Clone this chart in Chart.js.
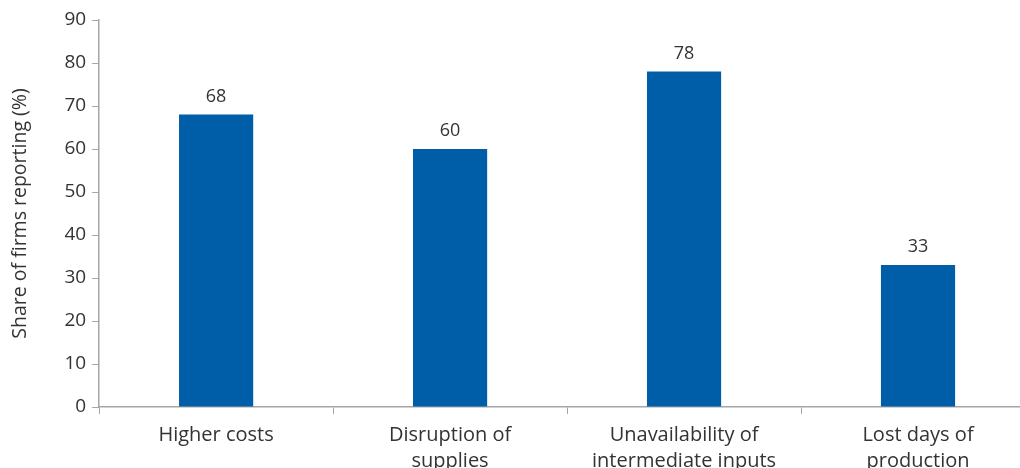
<!DOCTYPE html>
<html>
<head>
<meta charset="utf-8">
<script src="https://cdn.jsdelivr.net/npm/chart.js@4"></script>
<style>
  html, body { margin: 0; padding: 0; overflow: hidden; background: #fff; }
  #wrap { position: relative; width: 1035px; height: 482px; }
</style>
</head>
<body>
<div id="wrap"><canvas id="chart"></canvas></div>
<script>
// Категории и значения
const categories = [
  ['Higher costs'],
  ['Disruption of', 'supplies'],
  ['Unavailability of', 'intermediate inputs'],
  ['Lost days of', 'production']
];
const shares = [68, 60, 78, 33];
const yTicks = [0, 10, 20, 30, 40, 50, 60, 70, 80, 90];

const FONT = "'Open Sans', 'Noto Sans', sans-serif";
const TEXT = '#333333';
const AXIS = '#a6a6a6';

// подписи значений над столбцами
const valueLabels = {
  id: 'valueLabels',
  afterDatasetsDraw(chart) {
    const ctx = chart.ctx;
    const meta = chart.getDatasetMeta(0);
    ctx.save();
    ctx.font = '18px ' + FONT;
    ctx.fillStyle = TEXT;
    ctx.textAlign = 'center';
    ctx.textBaseline = 'bottom';
    meta.data.forEach((bar, i) => {
      ctx.fillText(String(shares[i]), bar.x, bar.y - 9);
    });
    ctx.restore();
  }
};

new Chart(document.getElementById('chart'), {
  type: 'bar',
  data: {
    labels: categories,
    datasets: [{
      data: shares,
      backgroundColor: '#005ea8',
      barPercentage: 0.317,
      categoryPercentage: 1
    }]
  },
  options: {
    responsive: true,
    maintainAspectRatio: false,
    animation: false,
    layout: { padding: { top: 20, right: 0, left: 9, bottom: 0 } },
    plugins: {
      legend: { display: false },
      tooltip: { enabled: false }
    },
    scales: {
      x: {
        offset: true,
        grid: { offset: true, drawOnChartArea: false, drawTicks: true, tickLength: 7, color: AXIS },
        border: { color: AXIS, width: 1.5 },
        ticks: { color: TEXT, font: { family: FONT, size: 20, lineHeight: 1.3 }, padding: 8, maxRotation: 0 }
      },
      y: {
        min: 0,
        max: 90,
        afterBuildTicks(axis) { axis.ticks = yTicks.map(v => ({ value: v })); },
        grid: { drawOnChartArea: false, drawTicks: true, tickLength: 7, color: AXIS },
        border: { color: AXIS, width: 1.5 },
        ticks: { color: TEXT, font: { family: FONT, size: 19 }, padding: 6 },
        title: {
          display: true,
          text: 'Share of firms reporting (%)',
          color: TEXT,
          font: { family: FONT, size: 19.5 },
          padding: { top: 0, bottom: 26 }
        }
      }
    }
  },
  plugins: [valueLabels]
});
</script>
</body>
</html>
